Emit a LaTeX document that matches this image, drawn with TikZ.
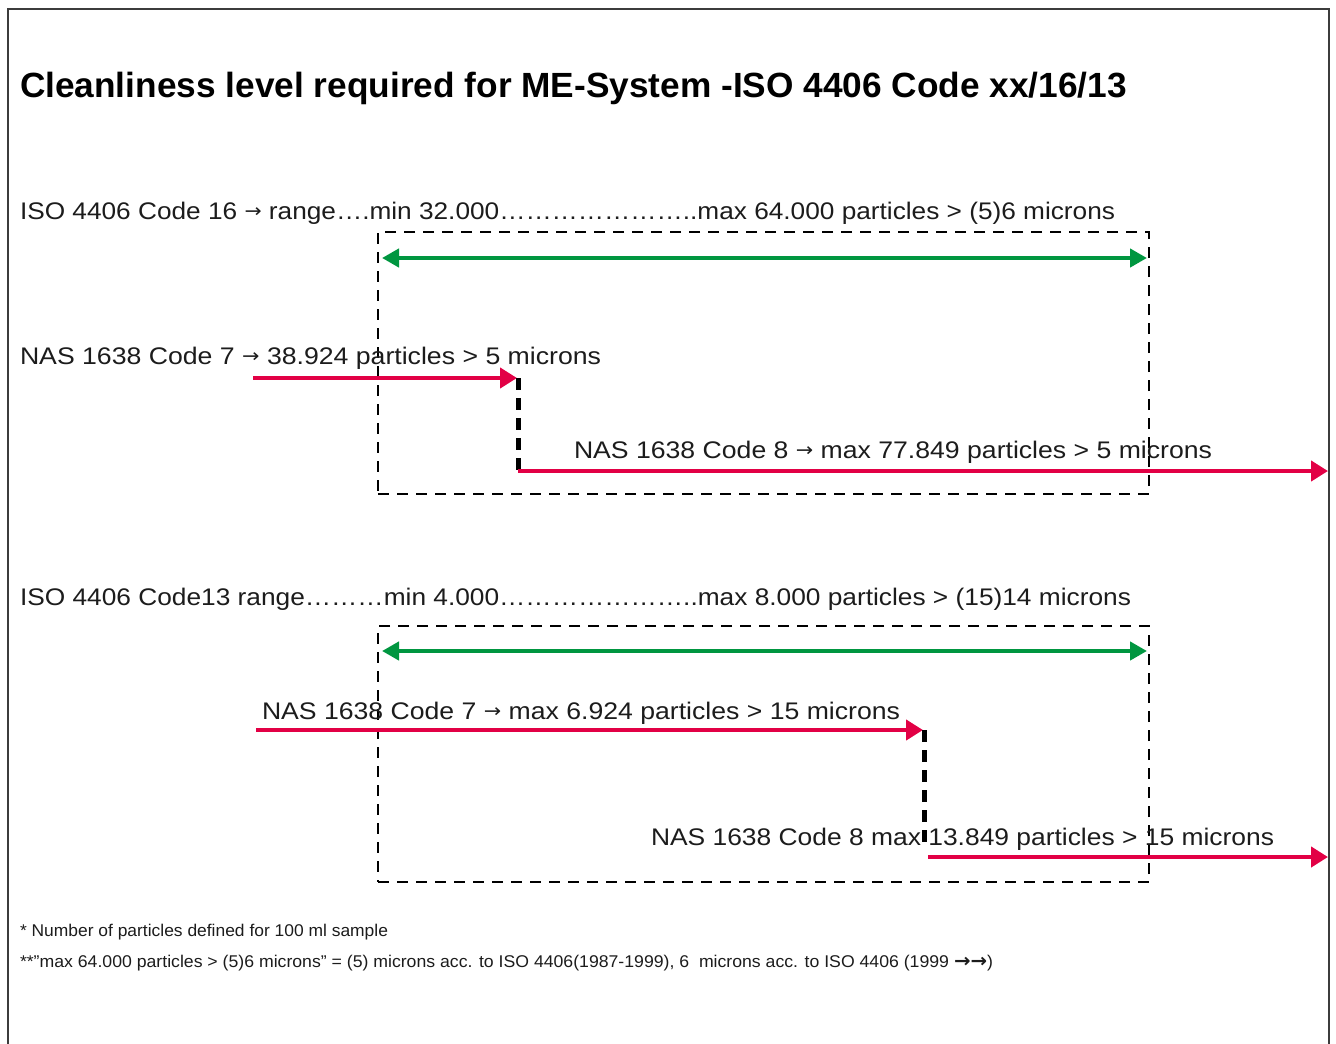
\documentclass[tikz,border=0pt]{standalone}
\usepackage{fontspec}
\setmainfont{Liberation Sans}
\newfontfamily\arrowfont{DejaVu Sans}
\usetikzlibrary{arrows.meta}

\definecolor{rangegreen}{RGB}{0,150,64}
\definecolor{nasred}{RGB}{226,0,69}
\definecolor{ink}{RGB}{28,28,28}
\definecolor{framegray}{RGB}{60,60,60}

% set a line to a given width without changing its height
\newcommand\fitto[2]{\resizebox{#1}{\height}{#2}}
% text arrow used in the labels
\newcommand\arr{\raisebox{0.06em}{\scalebox{0.78}{\arrowfont →}}}
\newcommand\notearr{{\arrowfont\bfseries\fontsize{19}{19}\selectfont →}}
% a run of n ellipsis characters
\newcommand\dotrun[1]{\foreach\k in {1,...,#1}{…}}

\tikzset{
  txt/.style={anchor=base west, inner sep=0pt, outer sep=0pt, text=ink,
              font=\fontsize{24}{28}\selectfont},
  titletxt/.style={txt, text=black, font=\fontsize{35}{40}\selectfont\bfseries},
  notetxt/.style={txt, font=\fontsize{17}{20}\selectfont},
  rangearrow/.style={draw=rangegreen, line width=4.6pt,
              {Triangle[length=17pt,width=18pt]}-{Triangle[length=17pt,width=18pt]}},
  nasarrow/.style={draw=nasred, line width=4.8pt,
              -{Triangle[length=17pt,width=20pt]}},
  window/.style={draw=black, line width=2.8pt, dash pattern=on 11pt off 8pt,
              inner sep=0pt, outer sep=0pt, anchor=north west},
  jumpline/.style={draw=black, line width=5pt, dash pattern=on 12pt off 8pt}
}

\begin{document}
\begin{tikzpicture}[x=1pt,y=-1pt]
\useasboundingbox (0,0) rectangle (1336,1044);

% open page frame (no bottom edge)
\draw[framegray, line width=1.6pt] (8,1044) -- (8,9) -- (1329,9) -- (1329,1044);

% title
\node[titletxt] (title) at (20,97)
  {\fitto{1107pt}{Cleanliness level required for ME-System -ISO 4406 Code xx/16/13}};

% ---------- ISO 4406 code 16 ----------
\node[txt] (iso16) at (20,219)
  {\fitto{1095pt}{ISO 4406 Code 16 \arr{} range….min 32.000\dotrun{7}..max 64.000 particles > (5)6 microns}};
\node[window, minimum width=771pt, minimum height=262pt] (win16) at (378,232) {};

\coordinate (g16l) at (382,258);
\coordinate (g16r) at (1147,258);
\draw[rangearrow] (g16l) -- (g16r);

\node[txt] (nas7a) at (20,364)
  {\fitto{581pt}{NAS 1638 Code 7 \arr{} 38.924 particles > 5 microns}};
\coordinate (r7as) at (253,378);
\coordinate (r7ae) at (517,378);
\coordinate (j7a) at (518,378);
\coordinate (j8a) at (518,471);
\coordinate (r8ae) at (1328,471);
\draw[nasarrow] (r7as) -- (r7ae);
\draw[jumpline] (j7a) -- (j8a);
\draw[nasarrow] (j8a) -- (r8ae);

\node[txt] (nas8a) at (574,458)
  {\fitto{638pt}{NAS 1638 Code 8 \arr{} max 77.849 particles > 5 microns}};

% ---------- ISO 4406 code 13 ----------
\node[txt] (iso13) at (20,605)
  {\fitto{1111pt}{ISO 4406 Code13 range\dotrun{3}min 4.000\dotrun{7}..max 8.000 particles > (15)14 microns}};
\node[window, minimum width=771pt, minimum height=256pt] (win13) at (378,626) {};

\coordinate (g13l) at (382,651);
\coordinate (g13r) at (1147,651);
\draw[rangearrow] (g13l) -- (g13r);

\node[txt] (nas7b) at (262,719)
  {\fitto{638pt}{NAS 1638 Code 7 \arr{} max 6.924 particles > 15 microns}};
\coordinate (r7bs) at (256,730);
\coordinate (r7be) at (923,730);
\coordinate (j7b) at (924,730);
\coordinate (j8b) at (924,846);
\draw[nasarrow] (r7bs) -- (r7be);
\draw[jumpline] (j7b) -- (j8b);

\node[txt] (nas8b) at (651,845)
  {\fitto{623pt}{NAS 1638 Code 8 max 13.849 particles > 15 microns}};
\coordinate (r8bs) at (928,857);
\coordinate (r8be) at (1328,857);
\draw[nasarrow] (r8bs) -- (r8be);

% ---------- footnotes ----------
\node[notetxt] (note1) at (20,936)
  {\fitto{368pt}{* Number of particles defined for 100 ml sample}};
\node[notetxt] (note2) at (20,967)
  {\fitto{973pt}{**”max 64.000 particles > (5)6 microns” = (5) microns acc. to ISO 4406(1987-1999), 6\ \ microns acc. to ISO 4406 (1999 \notearr\notearr)}};
\end{tikzpicture}
\end{document}
